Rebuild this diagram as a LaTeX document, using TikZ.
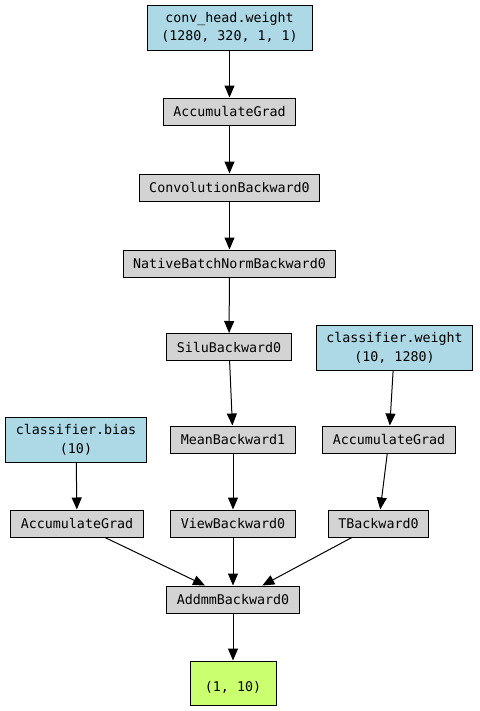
\documentclass[tikz,border=0pt]{standalone}
\usepackage{fontspec}
\setmonofont{DejaVu Sans Mono}
\usepackage{tikz}
\usetikzlibrary{arrows.meta}
\definecolor{ParamBlue}{HTML}{ADD8E6}
\definecolor{OpGray}{HTML}{D3D3D3}
\definecolor{OutGreen}{HTML}{CAFF70}

\tikzset{
    opbox/.style={draw, line width=0.75pt, fill=OpGray, align=center,
        font=\ttfamily\fontsize{10}{14}\selectfont,
        inner xsep=7.5pt, inner ysep=0pt, minimum height=20.25pt},
    parambox/.style={opbox, fill=ParamBlue, minimum height=33.75pt},
    outbox/.style={opbox, fill=OutGreen, minimum height=33pt, minimum width=64.5pt},
    flow/.style={-{Triangle[length=9pt,width=7.5pt]}, line width=0.75pt},
}

\begin{document}
\begin{tikzpicture}[x=0.75pt, y=-0.75pt]
    \useasboundingbox (0,0) rectangle (479,711);

    % Backbone chain
    \node[parambox, minimum width=123.75pt] (convw) at (229.5,27.5) {conv\_head.weight\\(1280, 320, 1, 1)};
    \node[opbox] (accconv) at (229.5,111.5) {AccumulateGrad};
    \node[opbox] (conv) at (229.5,187.5) {ConvolutionBackward0};
    \node[opbox] (bn) at (229.5,263.5) {NativeBatchNormBackward0};
    \node[opbox] (silu) at (229,347) {SiluBackward0};
    \node[opbox] (mean) at (233,439.5) {MeanBackward1};
    \node[opbox] (view) at (233,523.5) {ViewBackward0};

    % Classifier weight branch
    \node[parambox] (clsw) at (394.5,347.5) {classifier.weight\\(10, 1280)};
    \node[opbox] (accw) at (389,439.5) {AccumulateGrad};
    \node[opbox] (tback) at (378.5,523.5) {TBackward0};

    % Classifier bias branch
    \node[parambox] (clsb) at (76,439.5) {classifier.bias\\(10)};
    \node[opbox] (accb) at (77,523.5) {AccumulateGrad};

    % Output
    \node[opbox] (addmm) at (233,599.5) {AddmmBackward0};
    \node[outbox] (out) at (233,683) {~\\(1, 10)};

    % Edges
    \draw[flow] (convw) -- (accconv);
    \draw[flow] (accconv) -- (conv);
    \draw[flow] (conv) -- (bn);
    \draw[flow] (bn) -- (silu);
    \draw[flow] (silu) -- (mean);
    \draw[flow] (mean) -- (view);
    \draw[flow] (view) -- (addmm);
    \draw[flow] (clsw) -- (accw);
    \draw[flow] (accw) -- (tback);
    \draw[flow] ([xshift=-20pt]tback.south) -- ([xshift=22pt]addmm.north);
    \draw[flow] (clsb) -- (accb);
    \draw[flow] ([xshift=21pt]accb.south) -- ([xshift=-21pt]addmm.north);
    \draw[flow] (addmm) -- (out);
\end{tikzpicture}
\end{document}
